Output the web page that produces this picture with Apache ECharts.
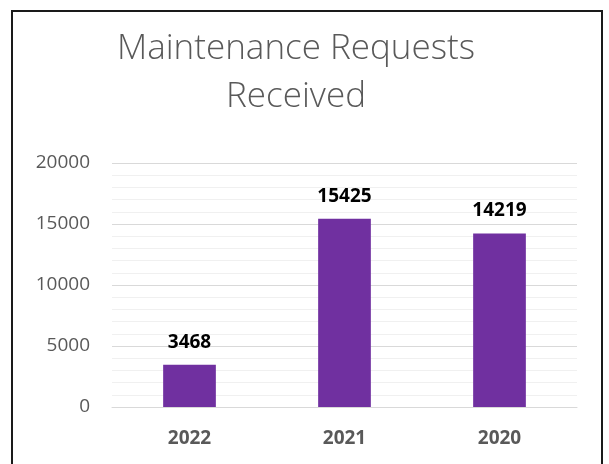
<!DOCTYPE html>
<html>
<head>
<meta charset="utf-8">
<script src="https://cdn.jsdelivr.net/npm/echarts@6/dist/echarts.min.js"></script>
<style>
  html, body { margin: 0; padding: 0; background: #fff; }
  #frame {
    position: absolute;
    left: 11px; top: 10px;
    width: 592px; height: 470px;
    border: 2px solid #1a1a1a;
    box-sizing: border-box;
  }
  #chart { position: absolute; left: 0; top: 0; width: 609px; height: 464px; }
</style>
</head>
<body>
<div id="frame"></div>
<div id="chart"></div>
<script>
const years = ['2022', '2021', '2020']
const requests = [3468, 15425, 14219]
const yTicks = { min: 0, max: 20000, step: 5000 }

const chart = echarts.init(document.getElementById('chart'))

chart.setOption({
  backgroundColor: 'transparent',
  animation: false,
  title: {
    text: 'Maintenance Requests\nReceived',
    left: 291,
    top: 20,
    textAlign: 'center',
    textStyle: {
      fontFamily: 'Open Sans',
      fontWeight: 300,
      fontSize: 35,
      color: '#595959',
      lineHeight: 48
    }
  },
  grid: {
    left: 112,
    right: 32,
    top: 163,
    bottom: 57
  },
  xAxis: {
    type: 'category',
    data: years,
    axisLine: { lineStyle: { color: '#d9d9d9' } },
    axisTick: { show: false },
    axisLabel: {
      margin: 22,
      fontFamily: 'Open Sans',
      fontWeight: 'bold',
      fontSize: 19,
      color: '#595959'
    }
  },
  yAxis: {
    type: 'value',
    min: yTicks.min,
    max: yTicks.max,
    interval: yTicks.step,
    axisLine: { show: false },
    axisTick: { show: false },
    axisLabel: {
      margin: 22,
      fontFamily: 'Open Sans',
      fontSize: 19,
      color: '#595959',
      formatter: v => String(v)
    },
    splitLine: { lineStyle: { color: '#d9d9d9', width: 1 } },
    minorTick: { show: false, splitNumber: 5 },
    minorSplitLine: { show: true, lineStyle: { color: '#f0f0f0', width: 1 } }
  },
  series: [{
    type: 'bar',
    data: requests,
    barWidth: '34%',
    itemStyle: { color: '#7030A0' },
    label: {
      show: true,
      position: 'top',
      distance: 13,
      fontFamily: 'Open Sans',
      fontWeight: 'bold',
      fontSize: 19,
      color: '#000'
    }
  }]
})
</script>
</body>
</html>
